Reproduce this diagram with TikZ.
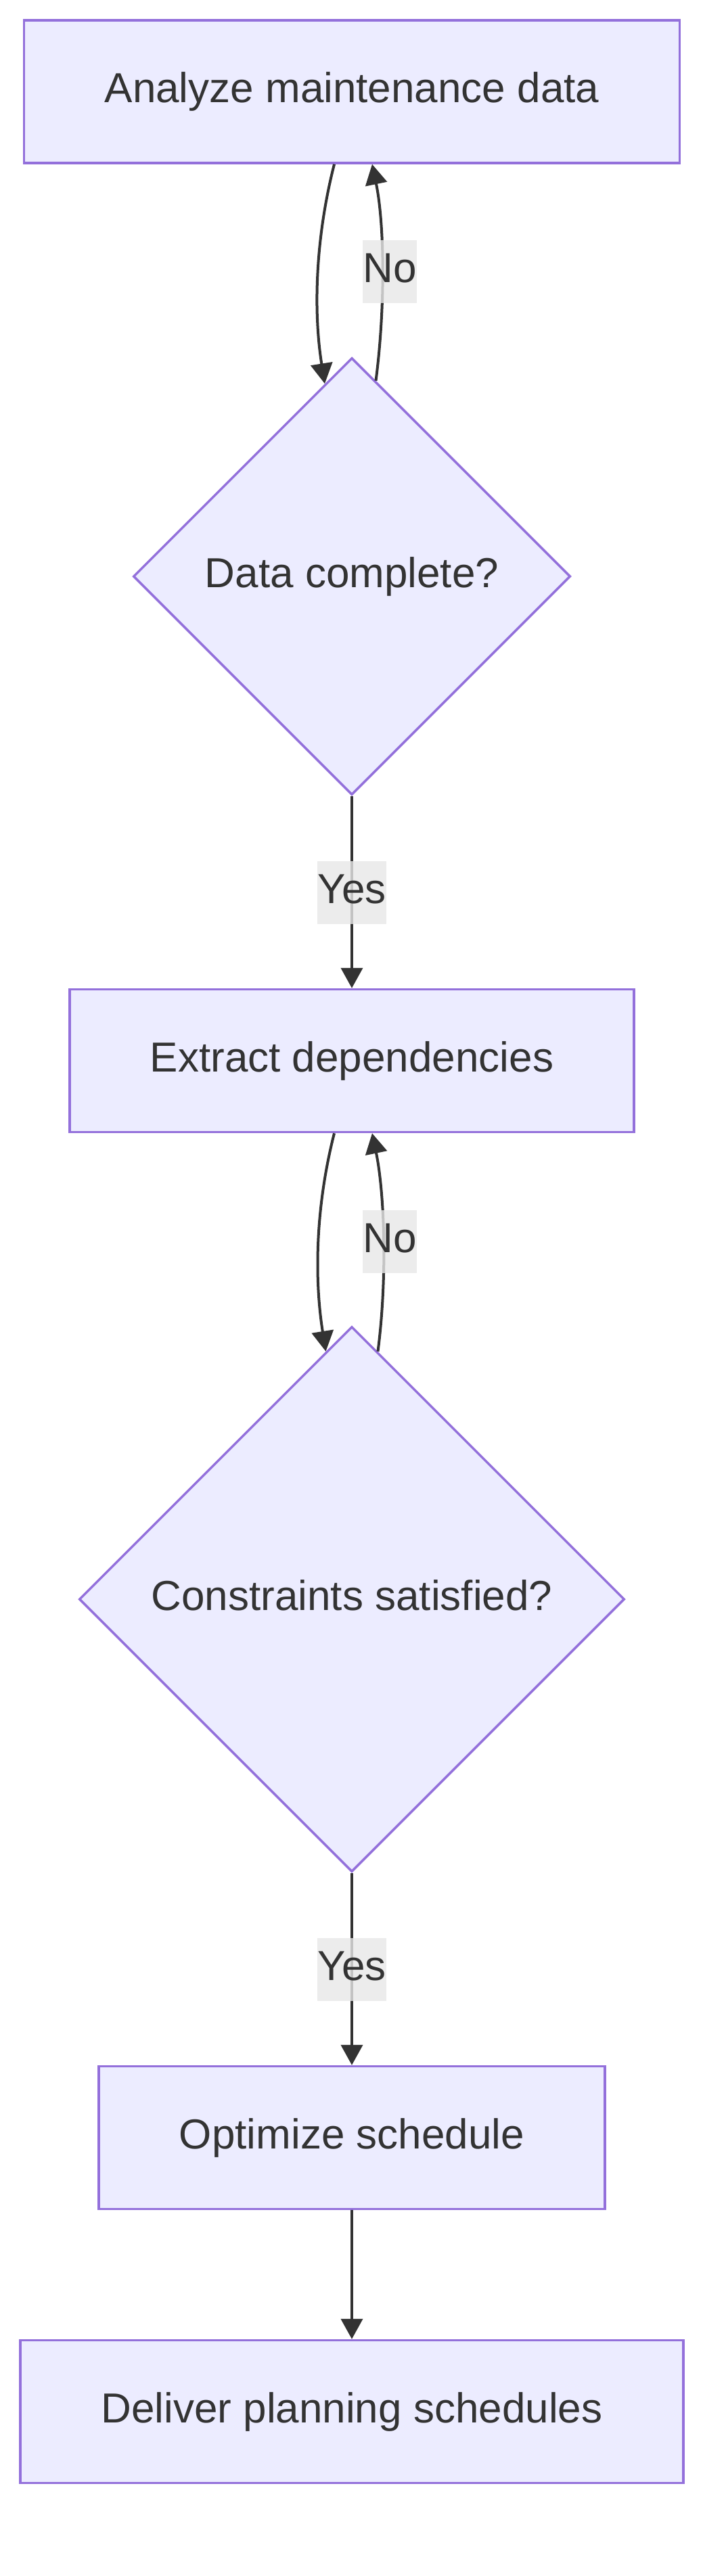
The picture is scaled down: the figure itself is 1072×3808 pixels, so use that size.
\documentclass[tikz,border=0pt]{standalone}
\usepackage{fontspec}
\setmainfont{Liberation Sans}
\usetikzlibrary{shapes.geometric,arrows.meta,calc}
\definecolor{nodefill}{HTML}{ECECFF}
\definecolor{nodeline}{HTML}{9370DB}
\definecolor{ink}{HTML}{333333}
\definecolor{lblbg}{HTML}{E8E8E8}
\begin{document}
\begin{tikzpicture}[x=1pt,y=-1pt,
  font=\fontsize{62pt}{74pt}\selectfont,
  procbox/.style={draw=nodeline, fill=nodefill, line width=3.5pt, text=ink, inner sep=0pt, minimum height=211pt, text height=45pt, text depth=13pt},
  decision/.style={diamond, aspect=1, draw=nodeline, fill=nodefill, line width=3.5pt, text=ink, inner sep=0pt, text height=45pt, text depth=13pt},
  edge/.style={draw=ink, line width=4pt, -{Triangle[width=32pt,length=30pt]}},
  lbl/.style={fill=lblbg, fill opacity=0.8, text opacity=1, text=ink, inner sep=0pt, minimum height=93pt, text height=45pt, text depth=13pt}
]
\useasboundingbox (0,0) rectangle (1072,3808);
\fill[white] (0,0) rectangle (1072,3808);

\node[procbox, minimum width=969pt] (A) at (520,135.5) {Analyze maintenance data};
\node[decision, minimum width=646pt, minimum height=646pt] (B) at (520,852) {Data complete?};
\node[procbox, minimum width=834pt] (C) at (520,1568) {Extract dependencies};
\node[decision, minimum width=806pt, minimum height=806pt] (D) at (520,2364) {Constraints satisfied?};
\node[procbox, minimum width=748pt] (E) at (520,3160) {Optimize schedule};
\node[procbox, minimum width=980pt] (F) at (520,3565) {Deliver planning schedules};

% loop 1
\draw[edge] ($(A.south)+(-26,0)$) .. controls +(-28,110) and +(-17,-107) .. (B.98);
\draw[edge] (B.83) .. controls +(14.5,-112) and +(18,87) .. ($(A.south)+(30,0)$);
\node[lbl] (no1) at (576,401.5) {No};

\draw[edge] (B.south) -- (C.north);
\node[lbl] (yes1) at (520,1319) {Yes};

% loop 2
\draw[edge] ($(C.south)+(-26,0)$) .. controls +(-28,110) and +(-17,-107) .. (D.96);
\draw[edge] (D.84) .. controls +(14.5,-112) and +(18,87) .. ($(C.south)+(30,0)$);
\node[lbl] (no2) at (576,1835.5) {No};

\draw[edge] (D.south) -- (E.north);
\node[lbl] (yes2) at (520,2911) {Yes};

\draw[edge] (E.south) -- (F.north);
\end{tikzpicture}
\end{document}
